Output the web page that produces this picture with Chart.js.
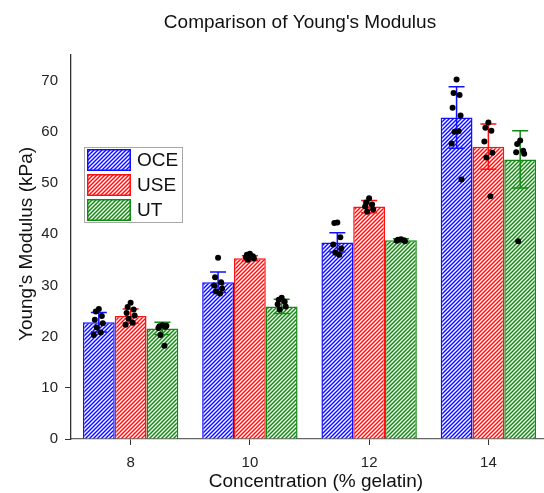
<!DOCTYPE html>
<html>
<head>
<meta charset="utf-8">
<script src="https://cdn.jsdelivr.net/npm/chart.js@4.4.1/dist/chart.umd.min.js"></script>
<style>
  html, body { margin: 0; padding: 0; background: #fff; overflow: hidden; }
  #wrap { width: 550px; height: 493px; }
</style>
</head>
<body>
<div id="wrap"><canvas id="chart" width="550" height="493"></canvas></div>
<script>
/* Young's modulus comparison: bars = mean, whiskers = SD, dots = samples */
const categories = ["8", "10", "12", "14"];
const seriesNames = ["OCE", "USE", "UT"];

const oceMean = [22.8, 30.6, 38.4, 62.8];
const useMean = [24.0, 35.3, 45.4, 57.1];
const utMean = [21.6, 25.9, 38.8, 54.6];

const oceSd = [1.9, 2.0, 1.9, 6.0];
const useSd = [1.4, 0.5, 1.2, 4.4];
const utSd = [1.2, 1.4, 0.3, 5.6];

// individual measurements, per concentration
const ocePoints = [
  [25.4, 24.9, 24.0, 23.3, 22.6, 21.8, 20.8, 20.3],
  [35.4, 31.6, 30.6, 30.0, 29.4, 28.8, 28.4],
  [42.3, 42.2, 39.4, 38.0, 37.2, 36.4, 36.0],
  [70.2, 67.6, 67.2, 64.7, 63.2, 60.0, 60.1, 57.7, 50.7],
];
const usePoints = [
  [26.6, 25.8, 25.3, 24.6, 24.1, 23.5, 22.7, 22.3],
  [36.2, 36.0, 35.7, 35.5, 35.3, 35.0, 35.6],
  [47.0, 46.2, 45.8, 45.4, 44.8, 44.4],
  [61.8, 60.8, 60.2, 58.1, 55.9, 55.0, 47.4],
];
const utPoints = [
  [22.2, 22.0, 21.9, 21.7, 22.1, 20.3, 18.2],
  [27.6, 27.2, 26.8, 26.3, 25.9, 25.3],
  [39.0, 38.9, 38.8, 38.7, 38.6],
  [58.3, 57.6, 56.3, 56.0, 55.7, 38.6],
];

const yTicks = [0, 10, 20, 30, 40, 50, 60, 70];

const COLORS = ["#1010ff", "#ff1010", "#108a10"];
const JITTER = [0, -3, 3, -4, 4, -2, 2, -5, 5];
const FONT = "'Liberation Sans', Arial, sans-serif";

function makeHatch(color) {
  const size = 4;
  const c = document.createElement("canvas");
  c.width = size;
  c.height = size;
  const g = c.getContext("2d");
  g.fillStyle = "#fff";
  g.fillRect(0, 0, size, size);
  g.strokeStyle = color;
  g.lineWidth = 1.5;
  g.beginPath();
  g.moveTo(-1, size + 1);
  g.lineTo(size + 1, -1);
  g.moveTo(-1, 1);
  g.lineTo(1, -1);
  g.moveTo(size - 1, size + 1);
  g.lineTo(size + 1, size - 1);
  g.stroke();
  return g.createPattern(c, "repeat");
}

const ctx = document.getElementById("chart").getContext("2d");
const hatches = COLORS.map(makeHatch);
const means = [oceMean, useMean, utMean];
const sds = [oceSd, useSd, utSd];
const points = [ocePoints, usePoints, utPoints];

const overlayPlugin = {
  id: "overlay",
  afterDatasetsDraw(chart) {
    const c = chart.ctx;
    const yScale = chart.scales.y;
    c.save();
    // error bars
    means.forEach((_, d) => {
      const meta = chart.getDatasetMeta(d);
      meta.data.forEach((bar, i) => {
        const top = yScale.getPixelForValue(means[d][i] + sds[d][i]);
        const bot = yScale.getPixelForValue(means[d][i] - sds[d][i]);
        c.strokeStyle = COLORS[d];
        c.lineWidth = 1.5;
        c.beginPath();
        c.moveTo(bar.x, top);
        c.lineTo(bar.x, bot);
        c.moveTo(bar.x - 8, top);
        c.lineTo(bar.x + 8, top);
        c.moveTo(bar.x - 8, bot);
        c.lineTo(bar.x + 8, bot);
        c.stroke();
      });
    });
    // sample dots
    c.fillStyle = "#000";
    points.forEach((group, d) => {
      const meta = chart.getDatasetMeta(d);
      group.forEach((vals, i) => {
        const bar = meta.data[i];
        vals.forEach((v, k) => {
          c.beginPath();
          c.arc(bar.x + JITTER[k % JITTER.length], yScale.getPixelForValue(v), 3, 0, Math.PI * 2);
          c.fill();
        });
      });
    });
    c.restore();
  },
  afterDraw(chart) {
    const c = chart.ctx;
    c.save();
    c.fillStyle = "#111";
    c.textAlign = "center";
    c.textBaseline = "middle";
    c.font = "19px " + FONT;
    c.fillText("Comparison of Young's Modulus", 300, 23);
    c.fillText("Concentration (% gelatin)", 316, 482);
    c.save();
    c.translate(27, 244);
    c.rotate(-Math.PI / 2);
    c.fillText("Young's Modulus (kPa)", 0, 0);
    c.restore();

    // legend box
    c.fillStyle = "#fff";
    c.fillRect(84, 147, 99, 76);
    c.strokeStyle = "#a8a8a8";
    c.lineWidth = 1;
    c.strokeRect(84.5, 147.5, 98, 75);
    c.textAlign = "left";
    seriesNames.forEach((name, d) => {
      const y = 149 + d * 25;
      c.fillStyle = hatches[d];
      c.fillRect(87, y, 44, 22);
      c.strokeStyle = COLORS[d];
      c.lineWidth = 1.5;
      c.strokeRect(87.75, y + 0.75, 42.5, 20.5);
      c.fillStyle = "#111";
      c.fillText(name, 137, y + 12);
    });
    c.restore();
  },
};

new Chart(ctx, {
  type: "bar",
  data: {
    labels: categories,
    datasets: seriesNames.map((name, d) => ({
      label: name,
      data: means[d],
      backgroundColor: hatches[d],
      borderColor: COLORS[d],
      borderWidth: 1.5,
      categoryPercentage: 0.8,
      barPercentage: 1.0,
    })),
  },
  options: {
    responsive: false,
    animation: false,
    layout: { padding: { top: 55, right: 2, left: 0, bottom: 0 } },
    plugins: {
      legend: { display: false },
      title: { display: false },
      tooltip: { enabled: false },
    },
    scales: {
      x: {
        afterFit: (scale) => { scale.height = 54; },
        grid: { display: true, offset: false, drawOnChartArea: false, drawTicks: true, tickLength: 6, color: "#333" },
        border: { color: "#666", width: 1.3 },
        ticks: { color: "#222", font: { size: 15, family: FONT }, padding: 9 },
      },
      y: {
        min: 0,
        max: 75,
        afterFit: (scale) => { scale.width = 71; },
        afterBuildTicks: (scale) => {
          scale.ticks = yTicks.map((v) => ({ value: v }));
        },
        grid: {
          drawOnChartArea: false,
          drawTicks: true,
          tickLength: 6,
          color: (c) => (c.tick && c.tick.value <= 10 ? "#333" : "rgba(0,0,0,0)"),
        },
        border: { color: "#333", width: 1.3 },
        ticks: { color: "#222", font: { size: 15, family: FONT }, padding: 7 },
      },
    },
  },
  plugins: [overlayPlugin],
});
</script>
</body>
</html>
